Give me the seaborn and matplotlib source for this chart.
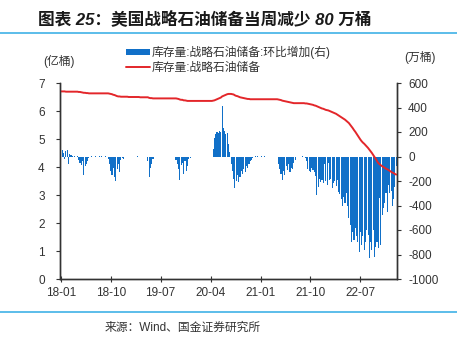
import matplotlib
matplotlib.use("Agg")
import matplotlib.pyplot as plt
import seaborn as sns
import numpy as np
import pandas as pd
from matplotlib.patches import Patch
from matplotlib.lines import Line2D

# ---------------- data (weekly, 2018-01-05 .. 2023-01-13) ----------------
tick_labels = ["18-01", "18-10", "19-07", "20-04", "21-01", "21-10", "22-07"]
tick_weeks = [0, 39, 78, 117, 156, 195, 234]

# SPR level, 亿桶 (left axis)
spr_level = [
    6.70, 6.70, 6.70, 6.70, 6.69, 6.69, 6.69, 6.69, 6.69, 6.69, 6.69, 6.69, 6.69, 6.69, 6.68, 6.68,
    6.67, 6.66, 6.65, 6.65, 6.64, 6.64, 6.63,
    6.63, 6.63, 6.63, 6.63, 6.63, 6.63, 6.63, 6.63, 6.63, 6.63, 6.63, 6.63, 6.63, 6.63, 6.63,
    6.62, 6.61, 6.60, 6.58, 6.57, 6.55, 6.53, 6.52, 6.52, 6.51, 6.51, 6.51,
    6.51, 6.51, 6.51, 6.50, 6.50, 6.50, 6.50, 6.50, 6.50, 6.50, 6.50, 6.50, 6.49, 6.49, 6.49, 6.49, 6.49, 6.49,
    6.49, 6.47, 6.46, 6.46, 6.45,
    6.45, 6.45, 6.45, 6.45, 6.45, 6.45, 6.45, 6.45, 6.45, 6.45, 6.45, 6.45, 6.45, 6.45, 6.45, 6.45, 6.45,
    6.45, 6.44, 6.43, 6.41, 6.40, 6.40, 6.38, 6.38, 6.37, 6.36, 6.36, 6.36, 6.36,
    6.36, 6.36, 6.36, 6.36, 6.36, 6.36, 6.36, 6.36, 6.36, 6.36, 6.36, 6.36, 6.36, 6.36, 6.36, 6.36,
    6.37, 6.38, 6.40, 6.42, 6.44, 6.46, 6.48, 6.52, 6.54, 6.56, 6.58, 6.60, 6.61, 6.61,
    6.61, 6.60, 6.59, 6.56, 6.54, 6.53, 6.51, 6.49, 6.48, 6.47, 6.46, 6.45, 6.44, 6.43, 6.43, 6.42, 6.42, 6.42,
    6.42, 6.42, 6.42, 6.42, 6.42, 6.42, 6.42, 6.42, 6.42, 6.42, 6.42, 6.42, 6.42, 6.42, 6.42, 6.42, 6.42, 6.42, 6.42,
    6.41, 6.40, 6.39, 6.37, 6.36, 6.35, 6.34, 6.33, 6.32, 6.31, 6.30, 6.29, 6.28, 6.28,
    6.28, 6.28, 6.28, 6.28, 6.28, 6.28, 6.28, 6.27, 6.27,
    6.26, 6.25, 6.24, 6.23, 6.22, 6.20, 6.19,
    6.17, 6.15, 6.13, 6.11, 6.09, 6.08, 6.06, 6.04,
    6.03, 6.02, 6.00, 5.98, 5.96, 5.94, 5.92,
    5.90, 5.87, 5.84, 5.81, 5.78, 5.75,
    5.72, 5.69, 5.65, 5.61, 5.57,
    5.51, 5.45, 5.39, 5.32, 5.26,
    5.19, 5.12, 5.05, 4.98, 4.92,
    4.87, 4.83, 4.78, 4.73, 4.68,
    4.62, 4.56, 4.50, 4.43,
    4.36, 4.29, 4.21, 4.14,
    4.10, 4.06, 4.03, 4.00, 3.97,
    3.94, 3.92, 3.89, 3.86,
    3.83, 3.80, 3.78, 3.75, 3.73,
]

# weekly change, 万桶 (right axis)
spr_change = [
    40, 55, 30, -20, 45, 50, -60, 20, 10,
    5, 0, 5, 0, 5,
    -30, -50, -70, -40, -150, -80, -60, -40, -10,
    0, 5, 0, 0, 5, 0, 0, 5, 0, 5, 0, 0, 5, 0,
    -20, -60, -120, -150, -90, -170, -200, -100, -60, -130, -30, -10, -20,
    0, 0, 0, 0, 0, 0, 0, 0, 0, 0, 5, 0, 0, 0, 0, 0, 0, 0,
    -40, -170, -90, -60, -20,
    0, 0, 0, 0, 0, 0, 0, 0, 0, 0, 0, 0, 0, 0, 0, 0, 0,
    -30, -60, -100, -190, -70, -50, -140, -40, -120, -80, -20, -10, -5,
    0, 0, 0, 0, 0, 0, 0, 0, 0, 0, 0, 0, 0, 0, 0, 0,
    60, 150, 180, 200, 190, 210, 200, 410, 230, 210, 180, 190, 100, 40,
    -60, -120, -180, -257, -200, -150, -210, -170, -120, -140, -100, -130, -80, -90, -60, -40, -30, -10,
    0, 5, 0, 5, 0, 0, 5, 0, 5, 0, 0, 0, 0, 0, 0, 0, 0, 0, 0,
    -60, -100, -140, -190, -120, -150, -80, -110, -60, -130, -90, -100, -50, -30,
    0, 0, 0, 0, 0, 5, 0, -10, -40,
    -100, -120, -130, -90, -110, -130,
    -160, -315, -250, -180,
    -210, -190, -220, -60, -200, -230,
    -50, -190, -180, -260, -220, -200, -240, -190,
    -290, -310, -350, -400, -330, -380, -300, -400,
    -500, -560, -700, -620, -680, -580, -650,
    -700, -780, -620, -720, -650, -760, -700, -600,
    -640, -830, -700, -760, -600, -820, -740,
    -700, -750, -340, -720, -480,
    -420, -380, -300, -450, -230, -300, -280, -400, -350, -250,
    -80,
]

assert len(spr_level) == len(spr_change) == 263
weeks = list(range(len(spr_level)))
df = pd.DataFrame({"week": weeks, "level": spr_level, "change": spr_change})

BLUE = "#1170c8"
RED = "#e3262a"
LINE_BLUE = "#3fb2e6"
TXT = "#333333"

sns.set_theme(style="white")
plt.rcParams["font.family"] = ["Liberation Sans", "Noto Sans CJK SC", "DejaVu Sans"]
plt.rcParams["axes.unicode_minus"] = False

fig = plt.figure(figsize=(4.57, 3.38), dpi=100)
ax = fig.add_axes([60 / 457, 1 - 279 / 338, 337 / 457, 196 / 338])

sns.barplot(data=df, x="week", y="change", native_scale=True, color=BLUE,
            saturation=1, width=0.85, errorbar=None, linewidth=0, ax=ax)
ax.set_ylim(-1000, 600)

ax2 = ax.twinx()
sns.lineplot(data=df, x="week", y="level", color=RED, lw=1.4, ax=ax2)
ax2.set_ylim(0, 7)

ax.yaxis.tick_right()
ax.yaxis.set_label_position("right")
ax2.yaxis.tick_left()
ax2.yaxis.set_label_position("left")

ax.set_xlim(-0.6, 262.6)
ax.set_xticks(tick_weeks)
ax.set_xticklabels(tick_labels)
ax.set_yticks(range(-1000, 601, 200))
ax2.set_yticks(range(0, 8))

for a in (ax, ax2):
    a.set_xlabel("")
    a.set_ylabel("")
    a.spines["top"].set_visible(False)
    for s in ("left", "right", "bottom"):
        a.spines[s].set_color(TXT)
        a.spines[s].set_linewidth(1.0)

ax.tick_params(axis="y", which="both", right=True, left=False, direction="out",
               length=3, width=0.8, colors=TXT, labelsize=8.5, pad=5)
ax2.tick_params(axis="y", which="both", left=True, right=False, direction="out",
                length=3, width=0.8, colors=TXT, labelsize=8.5, pad=8)
ax.tick_params(axis="x", bottom=True, direction="inout", length=4, width=0.8,
               colors=TXT, labelsize=8.5, pad=3.5)

# unit labels
fig.text(59 / 457, 1 - 61 / 338, "(亿桶)", ha="center", va="center", fontsize=8.5, color=TXT)
fig.text(420 / 457, 1 - 57 / 338, "(万桶)", ha="center", va="center", fontsize=8.5, color=TXT)

# legend
handles = [Patch(facecolor=BLUE, edgecolor="none"),
           Line2D([0], [0], color=RED, lw=1.4)]
labels = ["库存量:战略石油储备:环比增加(右)", "库存量:战略石油储备"]
fig.legend(handles, labels, loc="upper left", bbox_to_anchor=(126 / 457, 1 - 46 / 338),
           frameon=False, fontsize=8.5, handlelength=2.0, handleheight=0.45,
           handletextpad=0.15, labelspacing=0.2, borderpad=0, borderaxespad=0,
           labelcolor=TXT)

# title and decorations
fig.text(38 / 457, 1 - 19 / 338, "图表 25：美国战略石油储备当周减少 80 万桶",
         ha="left", va="center", fontsize=12, fontweight="bold", color="#1a1a1a",
         fontstyle="italic")
fig.add_artist(Line2D([0, 1], [1 - 33 / 338, 1 - 33 / 338], color=LINE_BLUE, lw=1.2,
                      transform=fig.transFigure))
fig.add_artist(Line2D([0, 1], [1 - 312 / 338, 1 - 312 / 338], color=LINE_BLUE, lw=1.2,
                      transform=fig.transFigure))
fig.text(105 / 457, 1 - 328 / 338, "来源：Wind、国金证券研究所", ha="left", va="center",
         fontsize=8.5, color=TXT)

fig.savefig("out.png", dpi=100)
